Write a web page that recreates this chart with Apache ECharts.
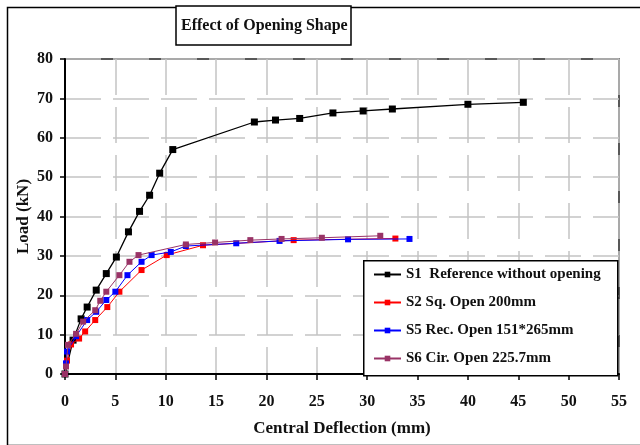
<!DOCTYPE html>
<html>
<head>
<meta charset="utf-8">
<script src="https://cdn.jsdelivr.net/npm/echarts@6/dist/echarts.min.js"></script>
<style>html,body{margin:0;padding:0;background:#fff;}#c{width:640px;height:445px;}</style>
</head>
<body>
<div id="c"></div>
<script>
var titleText = 'Effect of Opening Shape';
var xAxisName = 'Central Deflection (mm)';
var yAxisName = 'Load (kN)';
var seriesNames = ['S1  Reference without opening', 'S2 Sq. Open 200mm', 'S5 Rec. Open 151*265mm', 'S6 Cir. Open 225.7mm'];
var seriesColors = ['#000000', '#ff0000', '#0000ff', '#993366'];

var s1Data = [[0,0],[0.8,8.6],[1.6,14.0],[2.2,17.0],[3.1,21.3],[4.1,25.5],[5.1,29.7],[6.3,36.1],[7.4,41.3],[8.4,45.4],[9.4,51.0],[10.7,57.0],[18.8,64.0],[20.9,64.5],[23.3,64.9],[26.6,66.3],[29.6,66.8],[32.5,67.3],[40.0,68.5],[45.5,69.0]];
var s2Data = [[0,0],[0.2,3.4],[0.6,7.5],[1.4,9.0],[2.0,10.8],[3.0,13.7],[4.2,17.0],[5.4,20.9],[7.6,26.4],[10.1,30.2],[13.7,32.7],[22.7,34.0],[32.8,34.4]];
var s5Data = [[0,0],[0.1,2.7],[0.2,5.7],[1.1,9.6],[2.2,13.7],[3.1,15.8],[4.1,18.8],[5.0,20.9],[6.2,25.1],[7.6,28.5],[8.6,30.2],[10.5,31.0],[12.0,32.5],[17.0,33.2],[21.3,33.8],[28.1,34.2],[34.2,34.3]];
var s6Data = [[0,0],[0.1,1.9],[0.3,7.4],[1.1,10.2],[1.8,13.3],[3.0,16.2],[3.5,18.6],[4.1,20.9],[5.4,25.1],[6.4,28.5],[7.3,30.2],[12.0,32.9],[14.9,33.4],[18.4,34.0],[21.5,34.3],[25.5,34.6],[31.3,35.1]];
var allData = [s1Data, s2Data, s5Data, s6Data];

var serif = '"Liberation Serif", "DejaVu Serif", serif';
var chart = echarts.init(document.getElementById('c'));

var series = allData.map(function (d, i) {
  return {
    name: seriesNames[i],
    type: 'line',
    data: d,
    symbol: 'rect',
    symbolSize: i === 0 ? 7 : 6,
    showSymbol: true,
    animation: false,
    lineStyle: { color: seriesColors[i], width: i === 0 ? 1.3 : 1 },
    itemStyle: { color: seriesColors[i] },
    z: 5 + (i === 0 ? 0 : i)
  };
});

chart.setOption({
  animation: false,
  backgroundColor: '#fff',
  title: {
    text: titleText,
    left: 176,
    top: 6,
    padding: [12, 4, 11, 5],
    borderColor: '#000',
    borderWidth: 1.5,
    backgroundColor: '#fff',
    textStyle: { fontFamily: serif, fontSize: 16, fontWeight: 'bold', color: '#111' }
  },
  graphic: [
    { type: 'rect', left: 5, top: 5, z: 0, shape: { width: 700, height: 438 }, style: { fill: 'none', stroke: '#000', lineWidth: 1.5 } },
    { type: 'rect', left: 363, top: 260, z: 3, shape: { width: 254, height: 115 }, style: { fill: '#fff', stroke: '#000', lineWidth: 1.5 } }
  ],
  grid: { left: 65, right: 21, top: 59, bottom: 71, show: true, borderColor: '#222', borderWidth: 1.5, backgroundColor: 'transparent' },
  legend: {
    z: 10,
    orient: 'vertical',
    left: 363,
    top: 260,
    padding: [7, 10, 10, 10],
    itemGap: 13,
    itemWidth: 27,
    itemHeight: 7,
    data: seriesNames,
    textStyle: { fontFamily: serif, fontSize: 15, fontWeight: 'bold', color: '#111', lineHeight: 15 }
  },
  xAxis: {
    type: 'value',
    min: 0, max: 55, interval: 5,
    name: xAxisName,
    nameLocation: 'middle',
    nameGap: 46,
    nameMoveOverlap: false,
    nameTextStyle: { fontFamily: serif, fontSize: 17, fontWeight: 'bold', color: '#111' },
    axisLine: { lineStyle: { color: '#000', width: 2 } },
    axisTick: { show: true, length: 6, lineStyle: { color: '#000', width: 1.5 } },
    axisLabel: { margin: 20, fontFamily: serif, fontSize: 16, fontWeight: 'bold', color: '#111' },
    splitLine: { show: true, lineStyle: { color: '#c4c4c4', width: 1.5, type: [36, 12] } }
  },
  yAxis: {
    type: 'value',
    min: 0, max: 80, interval: 10,
    name: yAxisName,
    nameLocation: 'middle',
    nameGap: 33,
    nameMoveOverlap: false,
    nameTextStyle: { fontFamily: serif, fontSize: 17, fontWeight: 'bold', color: '#111' },
    axisLine: { show: true, lineStyle: { color: '#000', width: 2 } },
    axisTick: { show: true, length: 5, lineStyle: { color: '#000', width: 1.5 } },
    axisLabel: { margin: 12, fontFamily: serif, fontSize: 16, fontWeight: 'bold', color: '#111' },
    splitLine: { show: true, lineStyle: { color: '#c4c4c4', width: 1.5, type: [36, 12] } }
  },
  series: series
});
</script>
</body>
</html>
